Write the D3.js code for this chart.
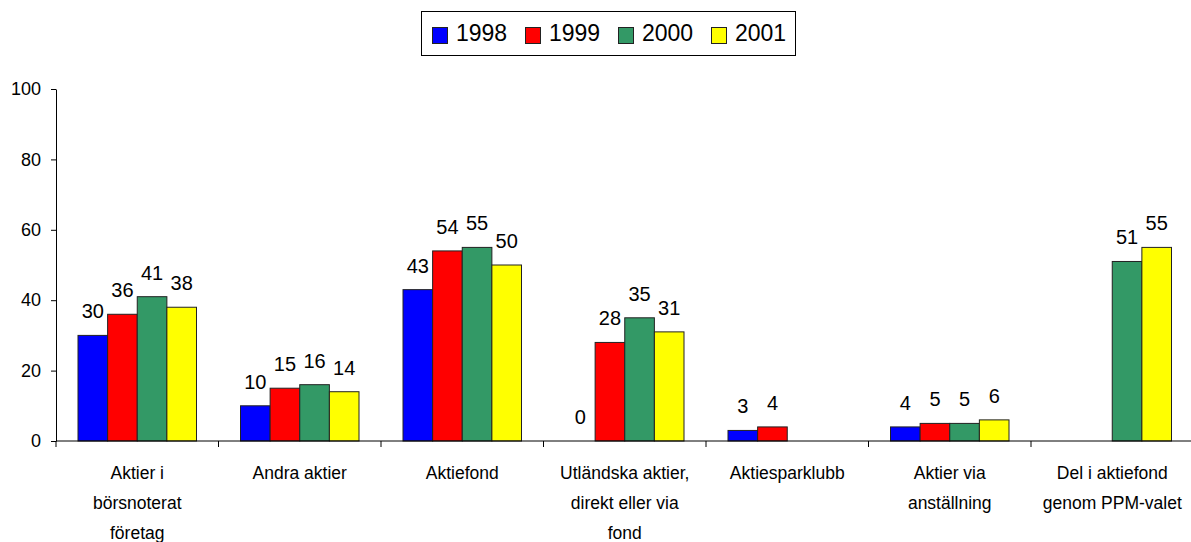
<!DOCTYPE html>
<html>
<head>
<meta charset="utf-8">
<script src="https://cdn.jsdelivr.net/npm/d3@7"></script>
<style>
  body { margin: 0; background: #fff; }
  svg { display: block; font-family: Arial, "Liberation Sans", sans-serif; }
</style>
</head>
<body>
<div id="chart"></div>
<script>
// Chart data
var categories = [
  'Aktier i\nbörsnoterat\nföretag',
  'Andra aktier',
  'Aktiefond',
  'Utländska aktier,\ndirekt eller via\nfond',
  'Aktiesparklubb',
  'Aktier via\nanställning',
  'Del i aktiefond\ngenom PPM-valet'
];
var years = ['1998', '1999', '2000', '2001'];
var colors = ['#0000ff', '#ff0000', '#339966', '#ffff00'];
var values1998 = [30, 10, 43, 0, 3, 4, null];
var values1999 = [36, 15, 54, 28, 4, 5, null];
var values2000 = [41, 16, 55, 35, null, 5, 51];
var values2001 = [38, 14, 50, 31, null, 6, 55];
var yTicks = [0, 20, 40, 60, 80, 100];

var series = [values1998, values1999, values2000, values2001];

var width = 1191;
var height = 542;
var margin = { top: 89, left: 56, bottom: 101 };
var plotRight = 1193.5;

var svg = d3.select('#chart').append('svg')
    .attr('width', width)
    .attr('height', height);

// Scales
var x = d3.scaleBand()
    .domain(d3.range(categories.length))
    .range([margin.left, plotRight]);
var bw = x.bandwidth();
var x1 = d3.scaleBand()
    .domain(years)
    .range([22, bw - 22]);
var y = d3.scaleLinear()
    .domain([0, 100])
    .range([height - margin.bottom, margin.top]);

// Y axis
var yAxis = d3.axisLeft(y)
    .tickValues(yTicks)
    .tickSizeInner(5)
    .tickSizeOuter(0)
    .tickPadding(10);
var gy = svg.append('g')
    .attr('transform', d3.translate ? d3.translate(margin.left, 0) : 'translate(' + margin.left + ',0)')
    .call(yAxis);
gy.select('.domain').attr('stroke', '#000');
gy.selectAll('.tick line').attr('stroke', '#000');
gy.selectAll('.tick text')
    .attr('fill', '#000')
    .style('font-size', '18px');

// Bars
var rows = [];
series.forEach(function (vals, s) {
  vals.forEach(function (v, c) {
    if (v !== null) {
      rows.push({ cat: c, year: years[s], color: colors[s], value: v });
    }
  });
});

svg.append('g').selectAll('rect')
    .data(rows.filter(function (d) { return d.value > 0; }))
    .enter().append('rect')
    .attr('x', function (d) { return x(d.cat) + x1(d.year); })
    .attr('y', function (d) { return y(d.value); })
    .attr('width', x1.bandwidth())
    .attr('height', function (d) { return y(0) - y(d.value); })
    .attr('fill', function (d) { return d.color; })
    .attr('stroke', '#222')
    .attr('stroke-width', 1);

// Value labels
svg.append('g').selectAll('text')
    .data(rows)
    .enter().append('text')
    .attr('x', function (d) { return x(d.cat) + x1(d.year) + x1.bandwidth() / 2; })
    .attr('y', function (d) { return y(d.value) - 17; })
    .attr('text-anchor', 'middle')
    .style('font-size', '20px')
    .attr('fill', '#000')
    .text(function (d) { return d.value; });

// X axis
var gx = svg.append('g');
gx.append('line')
    .attr('x1', margin.left).attr('x2', width)
    .attr('y1', y(0)).attr('y2', y(0))
    .attr('stroke', '#000');
gx.selectAll('.xtick')
    .data(d3.range(categories.length + 1))
    .enter().append('line')
    .attr('class', 'xtick')
    .attr('x1', function (i) { return margin.left + i * bw; })
    .attr('x2', function (i) { return margin.left + i * bw; })
    .attr('y1', y(0)).attr('y2', y(0) + 6)
    .attr('stroke', '#000');

var labels = gx.selectAll('.xlabel')
    .data(categories)
    .enter().append('text')
    .attr('class', 'xlabel')
    .attr('text-anchor', 'middle')
    .style('font-size', '17.5px')
    .attr('fill', '#000');
labels.each(function (d, i) {
  var t = d3.select(this);
  d.split('\n').forEach(function (line, j) {
    t.append('tspan')
        .attr('x', x(i) + bw / 2)
        .attr('y', 479 + j * 30)
        .text(line);
  });
});

// Legend
var legend = svg.append('g');
legend.append('rect')
    .attr('x', 421.5).attr('y', 11.5)
    .attr('width', 374).attr('height', 44)
    .attr('fill', '#fff')
    .attr('stroke', '#000');
var legendX = [432, 525, 618, 711];
years.forEach(function (yr, i) {
  legend.append('rect')
      .attr('x', legendX[i] + 0.5).attr('y', 27.5)
      .attr('width', 15).attr('height', 16)
      .attr('fill', colors[i])
      .attr('stroke', '#222');
  legend.append('text')
      .attr('x', legendX[i] + 24)
      .attr('y', 41)
      .style('font-size', '23px')
      .attr('fill', '#000')
      .text(yr);
});
</script>
</body>
</html>
